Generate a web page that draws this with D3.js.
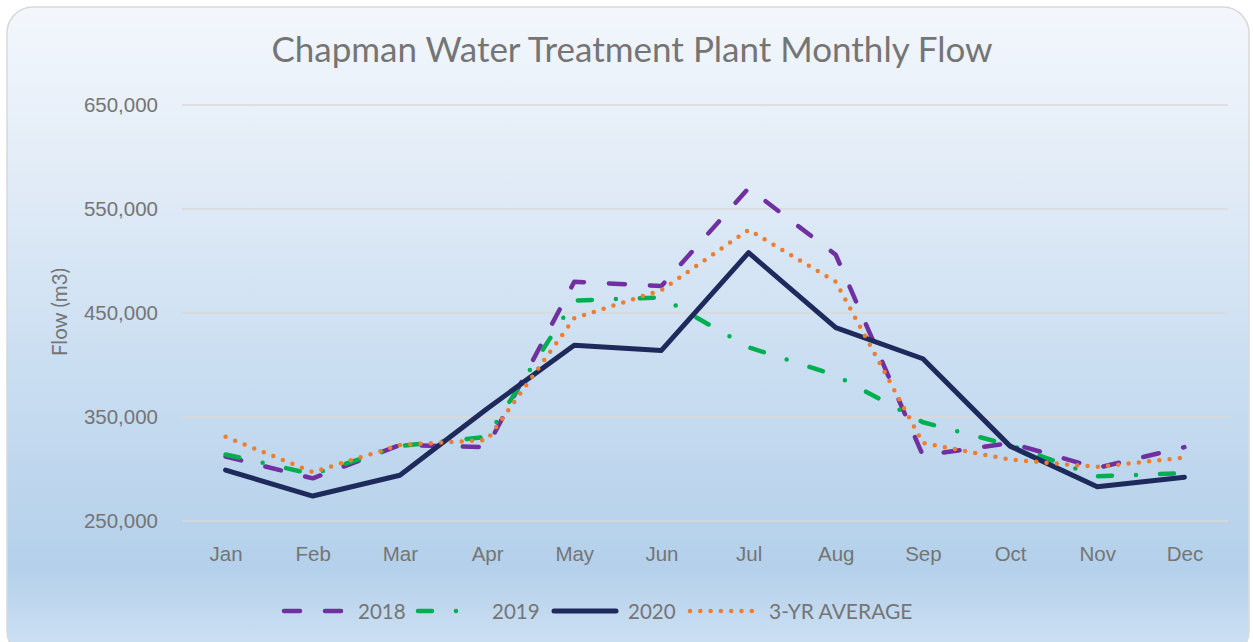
<!DOCTYPE html>
<html>
<head>
<meta charset="utf-8">
<script src="https://cdn.jsdelivr.net/npm/d3@7"></script>
<style>
  body{margin:0;background:#fff;}
  svg{display:block;font-family:Lato,"Noto Sans",sans-serif;}
</style>
</head>
<body>
<svg id="chart" width="1253" height="642"></svg>
<script>
// chart data
var months=["Jan","Feb","Mar","Apr","May","Jun","Jul","Aug","Sep","Oct","Nov","Dec"];
var flow2018=[312000,291000,323000,321000,480000,476000,570000,506000,313000,325000,301000,321000];
var flow2019=[314000,295000,322000,331000,462000,465000,417000,390000,345000,323000,293000,296000];
var flow2020=[299000,274000,294000,358000,419000,414000,508000,436000,406000,322000,283000,292000];
var flowAvg=[331000,297000,323000,328000,445000,472000,530000,480000,325000,309000,302000,311000];
var yTicks=[250000,350000,450000,550000,650000];

var LEFT=182,RIGHT=1228,TOP=105,BOTTOM=521;
var svg=d3.select("#chart");
var TEXTCOL="#757575";
var LABELSIZE="20.5px";

// background panel
var defs=svg.append("defs");
var grad=defs.append("linearGradient").attr("id","bg").attr("x1",0).attr("y1",0).attr("x2",0).attr("y2",1);
grad.append("stop").attr("offset","0%").attr("stop-color","#f3f7fc");
grad.append("stop").attr("offset","25%").attr("stop-color","#e2ecf7");
grad.append("stop").attr("offset","55%").attr("stop-color","#cadef1");
grad.append("stop").attr("offset","86%").attr("stop-color","#b4d0ea");
grad.append("stop").attr("offset","100%").attr("stop-color","#cfe2f4");

svg.append("rect")
	.attr("x",7).attr("y",7)
	.attr("width",1242).attr("height",650)
	.attr("rx",26).attr("ry",26)
	.attr("fill","url(#bg)")
	.attr("stroke","#d9d9d9")
	.attr("stroke-width",1.5);

// scales
var x=d3.scalePoint().domain(months).range([LEFT,RIGHT]).padding(0.5);
var y=d3.scaleLinear().domain([250000,650000]).range([BOTTOM,TOP]);

// gridlines
svg.append("g").selectAll("line").data(yTicks).enter().append("line")
	.attr("x1",LEFT).attr("x2",RIGHT)
	.attr("y1",function(d){return y(d);})
	.attr("y2",function(d){return y(d);})
	.attr("stroke","#d9d9d9")
	.attr("stroke-width",1.5);

// y axis labels
var yAxis=d3.axisLeft(y).tickValues(yTicks).tickFormat(d3.format(",")).tickSize(0).tickPadding(24);
var ya=svg.append("g").attr("transform","translate("+LEFT+",0)").call(yAxis);
ya.select(".domain").remove();
ya.selectAll("text").attr("fill",TEXTCOL).style("font-size",LABELSIZE);

// x axis labels
var xAxis=d3.axisBottom(x).tickSize(0).tickPadding(25);
var xa=svg.append("g").attr("transform","translate(0,"+BOTTOM+")").call(xAxis);
xa.select(".domain").remove();
xa.selectAll("text").attr("fill",TEXTCOL).style("font-size",LABELSIZE);

// title and axis title
svg.append("text")
	.attr("x",632).attr("y",62)
	.attr("text-anchor","middle")
	.attr("fill",TEXTCOL)
	.style("font-size","35px")
	.text("Chapman Water Treatment Plant Monthly Flow");

svg.append("text")
	.attr("transform","translate(67,312) rotate(-90)")
	.attr("text-anchor","middle")
	.attr("fill",TEXTCOL)
	.style("font-size",LABELSIZE)
	.text("Flow (m3)");

// series
var series=[
	{name:"2018",values:flow2018,color:"#7030a0",width:4.5,dash:"16,25"},
	{name:"2019",values:flow2019,color:"#00b050",width:4.5,dash:"14,24,0,24"},
	{name:"2020",values:flow2020,color:"#1f2a5c",width:5,dash:null},
	{name:"3-YR AVERAGE",values:flowAvg,color:"#ed7d31",width:4.5,dash:"0,10.3"}
];

var line=d3.line()
	.x(function(d,i){return x(months[i]);})
	.y(function(d){return y(d);});

series.forEach(function(s){
	svg.append("path")
		.attr("d",line(s.values))
		.attr("fill","none")
		.attr("stroke",s.color)
		.attr("stroke-width",s.width)
		.attr("stroke-linecap","round")
		.attr("stroke-linejoin","round")
		.attr("stroke-dasharray",s.dash);
});

// legend
var legendX=[282,416,552,688];
var LEGY=611;
series.forEach(function(s,i){
	var g=svg.append("g").attr("transform","translate("+legendX[i]+","+LEGY+")");
	g.append("line")
		.attr("x1",2).attr("x2",64)
		.attr("y1",0).attr("y2",0)
		.attr("stroke",s.color)
		.attr("stroke-width",s.width)
		.attr("stroke-linecap","round")
		.attr("stroke-dasharray",s.dash);
	g.append("text")
		.attr("x",i==3?81:76).attr("y",7.5)
		.attr("fill",TEXTCOL)
		.style("font-size",i==3?"21px":LABELSIZE)
		.text(s.name);
});
</script>
</body>
</html>
